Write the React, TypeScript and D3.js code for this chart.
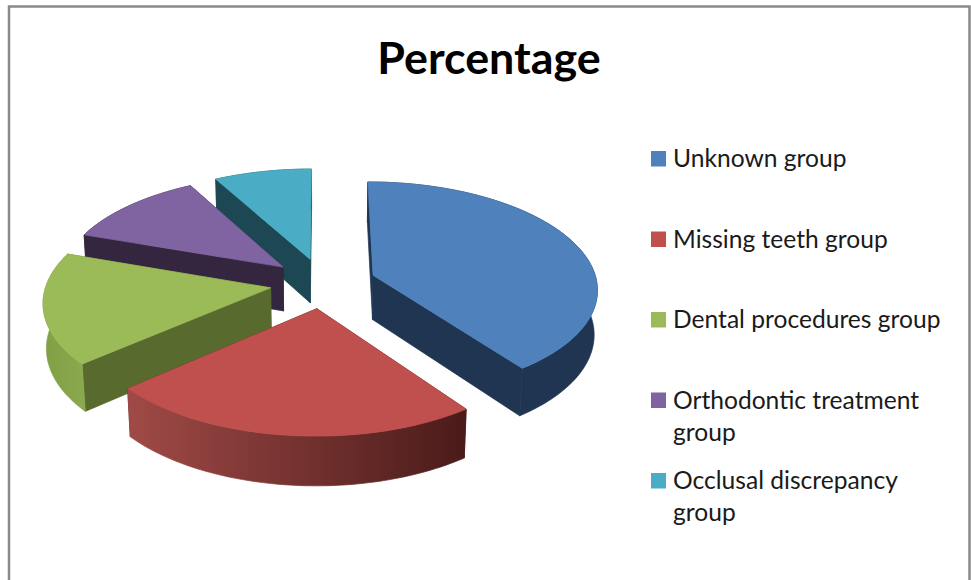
import React from "react";
import * as d3 from "d3";

const categories = [
  ["Unknown group"],
  ["Missing teeth group"],
  ["Dental procedures group"],
  ["Orthodontic treatment", "group"],
  ["Occlusal discrepancy", "group"],
];
const percentages = [40.0, 23.6, 16.7, 11.7, 8.0];
const topColors = ["#4f81bd", "#c0504d", "#9bbb59", "#8064a2", "#4bacc6"];
const cutColors = ["#1f3552", "#4b1c1a", "#586a2e", "#35263f", "#1d4752"];
const rimLeftColors = ["#1f3552", "#a04a47", "#80a046", "#35263f", "#1d4752"];
const rimRightColors = ["#1f3552", "#4a1b19", "#8aa84e", "#35263f", "#1d4752"];
// Back-to-front painting order of the exploded slices.
const paintOrder = [4, 3, 0, 2, 1];

const WIDTH = 971;
const HEIGHT = 580;

// Perspective projection of the tilted unit disc onto the page.
const CX = 323;
const CY = 283;
const SCALE_X = 224;
const SCALE_Y = 106;
const PERSPECTIVE = 0.117;
const EXPLODE = 0.237;
const DEPTH = 45;
const DEPTH_SHRINK = 0.012;

type Pt = [number, number];

function project(x: number, y: number, lower: boolean): Pt {
  const w = 1 + PERSPECTIVE * y + (lower ? DEPTH_SHRINK : 0);
  return [CX + (SCALE_X * x) / w, CY + (-SCALE_Y * y + (lower ? DEPTH : 0)) / w];
}

const pieAngles = d3
  .pie<number>()
  .sort(null)
  .startAngle(0)
  .endAngle(2 * Math.PI)(percentages);

const toPath = d3.line<Pt>();

function buildSlice(i: number) {
  const { startAngle: a0, endAngle: a1 } = pieAngles[i];
  const mid = (a0 + a1) / 2;
  const ox = EXPLODE * Math.sin(mid);
  const oy = EXPLODE * Math.cos(mid);
  const steps = Math.ceil((a1 - a0) / (Math.PI / 180));
  const angles = d3.range(steps + 1).map((k) => a0 + ((a1 - a0) * k) / steps);
  const rimAt = (a: number, lower: boolean) =>
    project(ox + Math.sin(a), oy + Math.cos(a), lower);
  const apexTop = project(ox, oy, false);
  const apexLow = project(ox, oy, true);
  const rimTop = angles.map((a) => rimAt(a, false));
  const rimLow = angles.map((a) => rimAt(a, true));
  const last = angles.length - 1;
  return {
    i,
    top: toPath([apexTop, ...rimTop])! + "Z",
    rim: toPath([...rimTop, ...[...rimLow].reverse()])! + "Z",
    startCut: toPath([apexTop, rimTop[0], rimLow[0], apexLow])! + "Z",
    endCut: toPath([apexTop, rimTop[last], rimLow[last], apexLow])! + "Z",
    xExtent: d3.extent(rimTop, (p) => p[0]) as [number, number],
  };
}

const legendX = d3.scaleLinear().domain([0, 1]).range([651, 666]);
const legendBaseline = d3
  .scaleLinear()
  .domain([0, categories.length - 1])
  .range([167, 489]);
const LEGEND_LINE = 32;
const FONT = "Lato, 'Open Sans', sans-serif";
const SEAM = 0.7;

export default function App() {
  const slices = paintOrder.map(buildSlice);
  return (
    <svg
      width={WIDTH}
      height={HEIGHT}
      viewBox={`0 0 ${WIDTH} ${HEIGHT}`}
      style={{ position: "absolute", left: 0, top: 0, display: "block" }}
    >
      <rect width={WIDTH} height={HEIGHT} fill="#ffffff" />
      <defs>
        {slices.map((s) => (
          <linearGradient
            key={s.i}
            id={`rim-${s.i}`}
            gradientUnits="userSpaceOnUse"
            x1={s.xExtent[0]}
            x2={s.xExtent[1]}
            y1={0}
            y2={0}
          >
            <stop offset="0" stopColor={rimLeftColors[s.i]} />
            <stop offset="1" stopColor={rimRightColors[s.i]} />
          </linearGradient>
        ))}
      </defs>

      <path
        d={`M9,${HEIGHT}V6.5H969.5V${HEIGHT}`}
        fill="none"
        stroke="#8a8a8a"
        strokeWidth={2.5}
      />

      <text
        x={489}
        y={74}
        textAnchor="middle"
        fontFamily={FONT}
        fontWeight={700}
        fontSize={44.8}
        fill="#000000"
      >
        Percentage
      </text>

      {slices.map((s) => (
        <g key={s.i} strokeWidth={SEAM} strokeLinejoin="round">
          <path d={s.startCut} fill={cutColors[s.i]} stroke={cutColors[s.i]} />
          <path d={s.endCut} fill={cutColors[s.i]} stroke={cutColors[s.i]} />
          <path d={s.rim} fill={`url(#rim-${s.i})`} stroke={`url(#rim-${s.i})`} />
          <path d={s.top} fill={topColors[s.i]} stroke={topColors[s.i]} />
        </g>
      ))}

      {categories.map((lines, i) => {
        const base = legendBaseline(i);
        return (
          <g key={lines[0]}>
            <rect
              x={legendX(0)}
              y={base - 16}
              width={legendX(1) - legendX(0)}
              height={15.5}
              fill={topColors[i]}
            />
            {lines.map((line, k) => (
              <text
                key={line}
                x={673}
                y={base + k * LEGEND_LINE}
                fontFamily={FONT}
                fontSize={24.6}
                fill="#1a1a1a"
              >
                {line}
              </text>
            ))}
          </g>
        );
      })}
    </svg>
  );
}
